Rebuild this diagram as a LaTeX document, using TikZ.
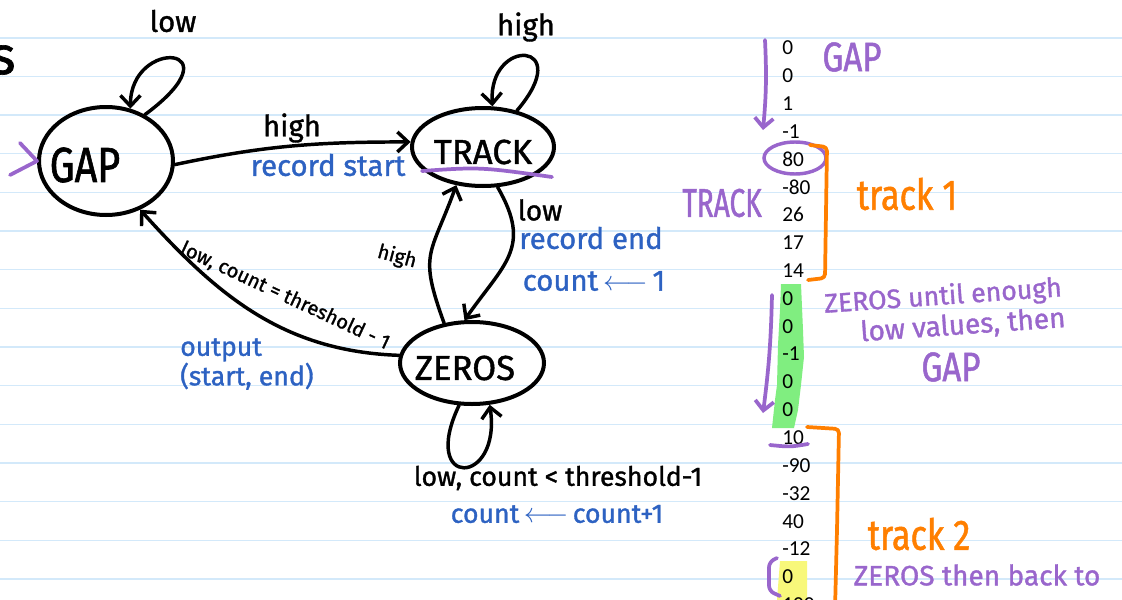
\documentclass[tikz,border=0pt]{standalone}
\usepackage{fontspec}
\setmainfont{Carlito}
\newfontfamily\hand[FakeBold=1.2]{Fira Sans}
\newfontfamily\handc[FakeStretch=0.8,FakeBold=1.2]{Fira Sans}
\newfontfamily\handcc[FakeStretch=0.7,FakeBold=1.2]{Fira Sans}
\usetikzlibrary{shapes.geometric,arrows.meta}
\newcommand\fsz[1]{\fontsize{#1}{#1}\selectfont}
\definecolor{ruleblue}{HTML}{D3E9FA}
\definecolor{inkblue}{HTML}{2D62C2}
\definecolor{inkpurple}{HTML}{9966CC}
\definecolor{inkorange}{HTML}{FF7F00}
\definecolor{hlgreen}{HTML}{80EE80}
\definecolor{hlyellow}{HTML}{F8F87A}
\begin{document}
\begin{tikzpicture}[x=0.75pt,y=0.75pt,
  ruleline/.style={draw=ruleblue,line width=1.1pt},
  state/.style={ellipse,draw,line width=3pt,inner sep=0pt},
  statetext/.style={inner sep=0pt,font=\hand\fsz{26}},
  edge/.style={draw,line width=2.6pt,line cap=round,line join=round,
     -{Straight Barb[length=8pt,width=15pt]}},
  blk/.style={inner sep=0pt,font=\hand\fsz{22}},
  blu/.style={inner sep=0pt,text=inkblue,font=\hand\fsz{22}},
  pur/.style={inner sep=0pt,text=inkpurple,font=\hand\fsz{21}},
  org/.style={inner sep=0pt,text=inkorange,font=\handc\fsz{32}},
  ppen/.style={draw=inkpurple,line width=2.8pt,line cap=round,line join=round},
  open/.style={draw=inkorange,line width=2.8pt,line cap=round,line join=round,rounded corners=3pt},
  num/.style={anchor=west,inner sep=0pt,font=\fsz{16}}
]
\useasboundingbox (0,0) rectangle (1122,-600);
\fill[white] (0,0) rectangle (1122,-600);
\foreach \k in {0,...,14} \draw[ruleline] (0,{-37.8-38.65*\k}) -- (1122,{-37.8-38.65*\k});

% highlights
\fill[hlgreen] (781,-284) -- (801,-284) -- (803,-330) -- (804,-357) -- (801,-385) -- (798,-410) -- (794,-428) -- (772,-428) -- (775,-400) -- (777,-385) -- (778,-345) -- (780,-310) -- cycle;
\fill[hlyellow] (780,-561) -- (807,-561) -- (807,-600) -- (777,-600) -- cycle;

% number column
\foreach \v [count=\i from 0] in {0,0,1,-1,80,-80,26,17,14,0,0,-1,0,0,10,-90,-32,40,-12,0,100}
  \node[num] (n\i) at (782,{-47.7-27.85*\i}) {\v};

% partial word at left edge
\node[blk,font=\hand\fsz{40}] (s) at (3,-60) {s};

% states
\node[state,minimum width=100.5pt,minimum height=81pt] (gap) at (106,-161) {};
\node[state,minimum width=106.5pt,minimum height=58.5pt] (track) at (483,-147) {};
\node[state,minimum width=108pt,minimum height=61.5pt] (zeros) at (472,-363) {};
\node[statetext,font=\handc\fsz{37}] (gapt) at (85,-165) {GAP};
\node[statetext] (trackt) at (483,-152) {TRACK};
\node[statetext] (zerost) at (465,-368) {ZEROS};

% initial marker
\coordinate (i1) at (20,-143);
\coordinate (i3) at (10,-175);
\draw[ppen] (i1) -- (gap.west) -- (i3);
% underline TRACK
\coordinate (u1) at (422,-171);
\coordinate (u2) at (552,-177);
\draw[ppen] (u1) .. controls (480,-167) .. (u2);

% edges
\draw[edge] (gap.50) .. controls +(95,70) and +(0,72) .. (gap.65);
\draw[edge] (track.47) .. controls +(60,70) and +(-4,70) .. (track.77);
\draw[edge] (zeros.-107) .. controls +(-40,-84) and +(12,-82) .. (zeros.-67);
\draw[edge] (gap.-3) to[out=12,in=180] (track.176);
\draw[edge] (track.-70) to[out=-60,in=55,looseness=1.3] (zeros.100);
\draw[edge] (zeros.125) to[out=110,in=-110,looseness=1.4] (track.-125);
\draw[edge] (zeros.174) to[out=178,in=-48] (gap.-55);

% edge labels
\node[blk] (l1) at (173,-21) {low};
\node[blk] (l2) at (526,-27) {high};
\node[blk] (l3) at (292,-128) {high};
\node[blu] (l4) at (328,-165) {record start};
\node[blk,font=\hand\fsz{21}] (l5) at (540,-210) {low};
\node[blu] (l6) at (591,-238) {record end};
\node[blu] (l7) at (594,-281) {count\,$\longleftarrow$\,1};
\node[blk,font=\hand\fsz{15},rotate=-15] (l8) at (397,-257) {high};
\node[blk,font=\hand\fsz{15},rotate=-25] (l9) at (285,-296) {low, count = threshold - 1};
\node[blu,anchor=north west,align=left,font=\hand\fontsize{20}{21}\selectfont] (l10) at (180,-338) {output\\(start, end)};
\node[blk,font=\hand\fsz{20}] (l11) at (558,-478) {low, count < threshold-1};
\node[blu,font=\hand\fsz{20}] (l12) at (557,-514) {count\,$\longleftarrow$\,count+1};

% right-hand annotations
\coordinate (a1s) at (765,-40);
\coordinate (a1e) at (763,-130);
\draw[ppen,-{Straight Barb[length=7pt,width=14pt]}] (a1s) to[bend left=4] (a1e);
\coordinate (a2s) at (772,-295);
\coordinate (a2e) at (763,-413);
\draw[ppen,-{Straight Barb[length=7pt,width=14pt]}] (a2s) to[bend left=3] (a2e);
\node[ellipse,draw=inkpurple,line width=2.6pt,minimum width=46.5pt,minimum height=24pt,inner sep=0pt] (ring) at (795,-158) {};
\node[pur,font=\handc\fsz{31}] (p1) at (852,-57) {GAP};
\node[pur,font=\handcc\fsz{30}] (p2) at (722,-203) {TRACK};
\node[pur,rotate=4,font=\hand\fsz{20}] (p3) at (943,-297) {ZEROS until enough};
\node[pur,rotate=4] (p4) at (963,-326) {low values, then};
\node[pur,font=\handc\fsz{31}] (p5) at (951,-367) {GAP};
\node[pur] (p6) at (977,-575) {ZEROS then back to};
\node[org] (o1) at (907,-194) {track 1};
\node[org] (o2) at (919,-534) {track 2};
\draw[open] (810,-145) -- (827,-147) -- (825,-278) -- (808,-280);
\draw[open] (807,-427) -- (839,-429) -- (837,-530) -- (835,-610);
\draw[ppen] (770,-445) .. controls (790,-447) .. (808,-444);
\draw[ppen,rounded corners=4pt] (777,-558) -- (769,-562) -- (769,-591) -- (780,-596);
\end{tikzpicture}
\end{document}
